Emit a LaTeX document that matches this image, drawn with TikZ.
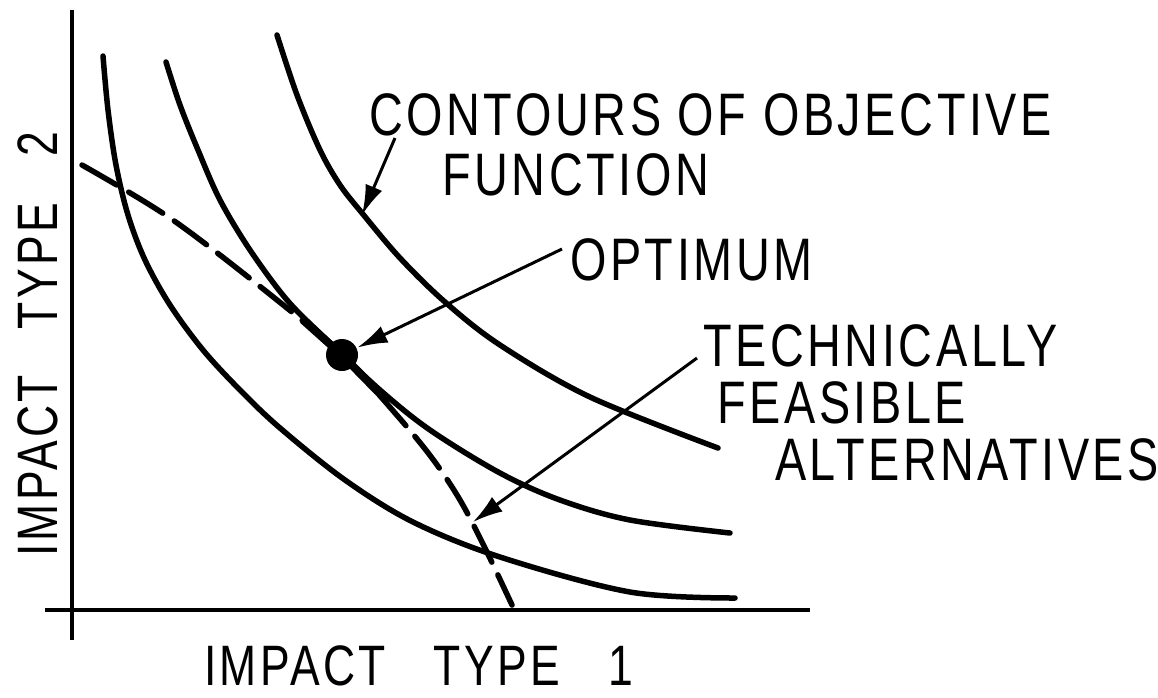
\documentclass[tikz,border=0pt]{standalone}
\usepackage{fontspec}
\setmainfont{Liberation Sans}[FakeStretch=0.78,LetterSpace=6]
\usetikzlibrary{arrows.meta}
\tikzset{
  axis/.style={line width=3.2pt},
  contour/.style={line width=5.5pt,line cap=round},
  frontier/.style={line width=5.5pt,line cap=round,dash pattern=on 40pt off 14pt},
  pointer/.style={line width=3pt,-{Latex[length=30pt,width=18pt]}},
  lbl/.style={inner sep=0pt,anchor=base west,font=\fontsize{60}{60}\selectfont},
  axlbl/.style={inner sep=0pt,anchor=base west,font=\fontsize{57}{57}\selectfont},
}
\begin{document}
\begin{tikzpicture}[x=1pt,y=-1pt]
\useasboundingbox (0,0) rectangle (1158,697);
% axes
\coordinate (ytop) at (72,10);
\coordinate (ybot) at (72,640);
\coordinate (xl) at (45,610);
\coordinate (xr) at (810,610);
\draw[axis] (ytop) -- (ybot);
\draw[axis] (xl) -- (xr);
% contours
\draw[contour] plot[smooth,tension=0.55] coordinates {(103,56) (108,110) (116,165) (128,215) (145,260) (170,305) (203,350) (240,390) (280,428) (345,480) (413,522) (500,557) (630,592) (735,598)};
\draw[contour] plot[smooth,tension=0.55] coordinates {(166,62) (180,105) (198,150) (220,200) (250,250) (287,300) (327,340) (380,390) (430,430) (500,473) (560,500) (630,520) (730,533)};
\draw[contour] plot[smooth,tension=0.55] coordinates {(277,35) (297,95) (320,150) (340,185) (362,213) (400,258) (445,302) (500,345) (590,397) (718,448)};
% frontier
\draw[frontier] plot[smooth,tension=0.55] coordinates {(82,165) (170,218) (267,292) (342,355) (395,413) (432,458) (460,500) (485,548) (512,605)};
\draw[line width=8pt] (303,320) -- (342,355) -- (388,402);
\node[circle,fill,inner sep=0pt,minimum size=32pt] (opt) at (342,355) {};
% labels
\node[lbl] (contours) at (369,135) {CONTOURS OF OBJECTIVE};
\node[lbl] (function) at (442,195) {FUNCTION};
\node[lbl] (optimum) at (570,280) {OPTIMUM};
\node[lbl] (tech) at (703,366) {TECHNICALLY};
\node[lbl] (feas) at (717,423) {FEASIBLE};
\node[lbl] (alt) at (775,480) {ALTERNATIVES};
\node[axlbl] (xlab) at (204,685) {IMPACT\hspace{48pt}TYPE\hspace{48pt}1};
\node[axlbl,rotate=90] (ylab) at (57,557) {IMPACT\hspace{46pt}TYPE\hspace{46pt}2};
% pointers
\coordinate (c1s) at (395,138);
\coordinate (c1t) at (362,215);
\coordinate (c2s) at (562,249);
\coordinate (c3s) at (697,358);
\coordinate (c3t) at (473,522);
\draw[pointer] (c1s) -- (c1t);
\draw[pointer,shorten >=1pt] (c2s) -- (opt);
\draw[pointer] (c3s) -- (c3t);
\end{tikzpicture}
\end{document}
